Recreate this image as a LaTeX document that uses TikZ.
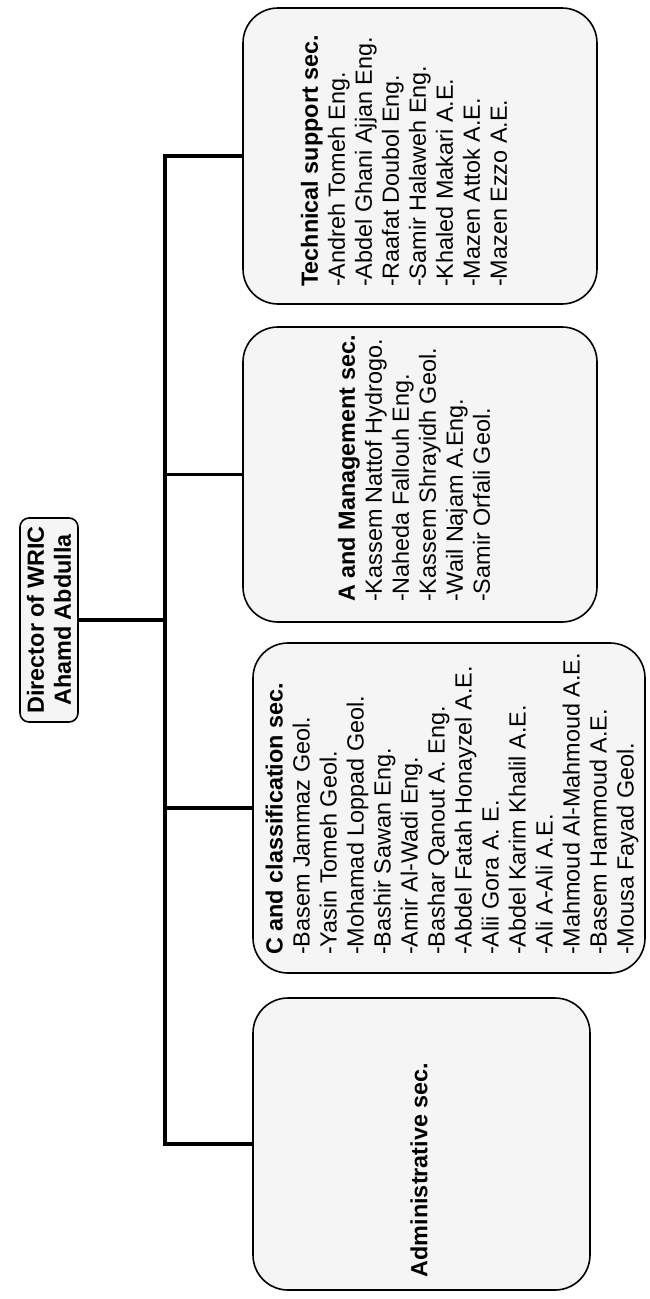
\documentclass[tikz,border=0pt]{standalone}
\usepackage{fontspec}
\setmainfont{Liberation Sans}
\begin{document}
\begin{tikzpicture}[x=1pt,y=-1pt,
  font=\fontsize{23.4}{27}\selectfont,
  box/.style={draw, line width=1.6pt, rounded corners=35pt, fill=black!4, inner sep=0pt},
  dirbox/.style={draw, line width=1.6pt, rounded corners=9pt, fill=black!4, inner sep=0pt},
  link/.style={line width=3.4pt},
  txt/.style={rotate=90, anchor=west, align=left, inner sep=0pt}]
\useasboundingbox (0,0) rectangle (650,1299);
% boxes
\node[box, minimum width=354pt, minimum height=296pt] (tech) at (420,156) {};
\node[box, minimum width=354pt, minimum height=295pt] (mgmt) at (420,474.5) {};
\node[box, minimum width=392pt, minimum height=330pt] (clas) at (449,808) {};
\node[box, minimum width=337pt, minimum height=292pt] (admin) at (421.5,1144) {};
\node[dirbox, minimum width=58pt, minimum height=204pt] (dir) at (49,620) {};
% texts
\node[txt] (techtxt) at (404,287) {\textbf{Technical support sec.}\\-Andreh Tomeh Eng.\\-Abdel Ghani Ajjan Eng.\\-Raafat Doubol Eng.\\-Samir Halaweh Eng.\\-Khaled Makari A.E.\\-Mazen Attok A.E.\\-Mazen Ezzo A.E.};
\node[txt] (mgmttxt) at (414,602) {\textbf{A and Management sec.}\\-Kassem Nattof Hydrogo.\\-Naheda Fallouh Eng.\\-Kassem Shrayidh Geol.\\-Wail Najam A.Eng.\\-Samir Orfali Geol.};
\node[txt] (clastxt) at (452,955) {\textbf{C and classification sec.}\\-Basem Jammaz Geol.\\-Yasin Tomeh Geol.\\-Mohamad Loppad Geol.\\-Bashir Sawan Eng.\\-Amir Al-Wadi Eng.\\-Bashar Qanout A. Eng.\\-Abdel Fatah Honayzel A.E.\\-Alii Gora A. E.\\-Abdel Karim Khalil A.E.\\-Ali A-Ali A.E.\\-Mahmoud Al-Mahmoud A.E.\\-Basem Hammoud A.E.\\-Mousa Fayad Geol.};
\node[txt, anchor=center] (admintxt) at (419,1170) {\textbf{Administrative sec.}};
\node[rotate=90, align=center, inner sep=0pt, font=\fontsize{23.4}{27}\selectfont\bfseries] (dirtxt) at (dir.center) {Director of WRIC\\Ahamd Abdulla};
% connectors
\coordinate (bus) at (165,620);
\draw[link] (dir.east) -- (bus);
\draw[link] (tech.west) -| (165,158) |- (admin.west);
\draw[link] (mgmt.west) -- (mgmt.west -| bus);
\draw[link] (clas.west) -- (clas.west -| bus);
\end{tikzpicture}
\end{document}
